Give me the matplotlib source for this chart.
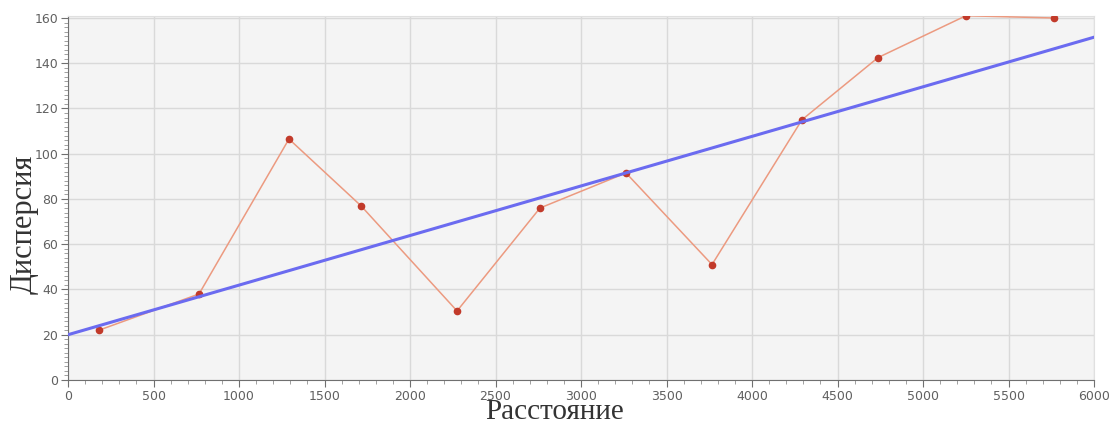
import matplotlib.pyplot as plt
from matplotlib.ticker import MultipleLocator

# Данные
distance = [181, 766, 1292, 1713, 2275, 2760, 3263, 3766, 4292, 4737, 5251, 5766]
dispersion = [22, 38, 106.5, 77, 30.5, 76, 91.5, 51, 115, 142.5, 161, 160]
trend_x = [0, 6000]
trend_y = [20, 151.5]

fig = plt.figure(figsize=(11.1, 4.25), dpi=100)
ax = fig.add_axes([0.0613, 0.106, 0.9243, 0.857])
ax.set_facecolor('#f4f4f4')

ax.plot(distance, dispersion, color='#ec9a80', lw=1.1, zorder=3)
ax.plot(distance, dispersion, 'o', color='#c23a2a', ms=4.5, zorder=4)
ax.plot(trend_x, trend_y, color='#6b6bf0', lw=2.2, zorder=5)

ax.set_xlim(0, 6000)
ax.set_ylim(0, 161)
ax.xaxis.set_major_locator(MultipleLocator(500))
ax.xaxis.set_minor_locator(MultipleLocator(100))
ax.yaxis.set_major_locator(MultipleLocator(20))
ax.yaxis.set_minor_locator(MultipleLocator(2))
ax.grid(True, which='major', color='#d9d9d9', lw=1.0)
ax.set_axisbelow(True)

for s in ['top', 'right']:
    ax.spines[s].set_color('#e0e0e0')
for s in ['left', 'bottom']:
    ax.spines[s].set_color('#707070')
ax.tick_params(which='major', length=5, color='#707070', labelsize=9, labelcolor='#606060', pad=2)
ax.tick_params(which='minor', length=3, color='#909090')

ax.set_xlabel('Расстояние', family='Liberation Serif', fontsize=21, color='#333333')
ax.set_ylabel('Дисперсия', family='Liberation Serif', fontsize=22, color='#333333')
ax.xaxis.set_label_coords(0.474, -0.052)
ax.yaxis.set_label_coords(-0.029, 0.426)

plt.savefig('out.png')
